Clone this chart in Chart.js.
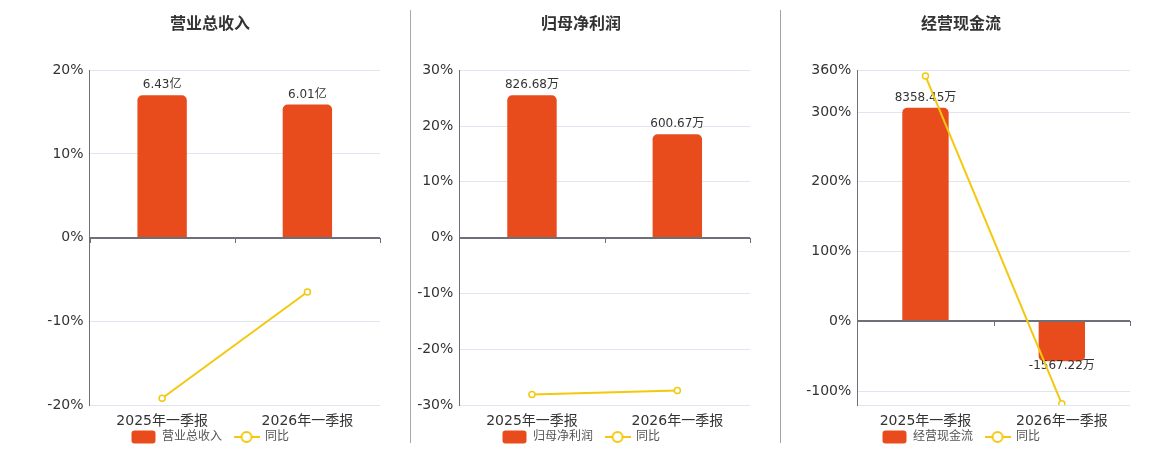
<!DOCTYPE html>
<html><head><meta charset="utf-8">
<script src="https://cdn.jsdelivr.net/npm/chart.js@4.4.0/dist/chart.umd.min.js"></script>
<style>
html,body{margin:0;padding:0;background:#fff;}
body{width:1160px;height:450px;position:relative;overflow:hidden;}
.panel{position:absolute;top:0;height:450px;}
.sep{position:absolute;top:10px;height:433px;width:1px;background:#a8a8a8;}
</style></head><body>
<div class="panel" style="left:10px;width:400px"><canvas id="c1" width="400" height="450"></canvas></div>
<div class="sep" style="left:410px"></div>
<div class="panel" style="left:411px;width:340px"><canvas id="c2" width="340" height="450"></canvas></div>
<div class="sep" style="left:780px;background:#a4a49c"></div>
<div class="panel" style="left:781px;width:360px"><canvas id="c3" width="360" height="450"></canvas></div>
<script>
// ---- data ----
const categories = ['2025年一季报', '2026年一季报'];

const revenueName = '营业总收入';
const revenueValues = [6.43, 6.01];          // 亿
const revenueUnit = '亿';
const revenueYoY = [-19.2, -6.5];           // %
const revenueTicks = [-20, -10, 0, 10, 20];

const profitName = '归母净利润';
const profitValues = [826.68, 600.67];       // 万
const profitUnit = '万';
const profitYoY = [-28.1, -27.4];
const profitTicks = [-30, -20, -10, 0, 10, 20, 30];

const cashName = '经营现金流';
const cashValues = [8358.45, -1567.22];      // 万
const cashUnit = '万';
const cashYoY = [351.6, -118.3];
const cashTicks = [-120, -100, 0, 100, 200, 300, 360];
const cashHiddenTickLabels = [-120];

const yoyName = '同比';

// ---- styles ----
const BAR_COLOR = '#E84C1D';
const LINE_COLOR = '#F3C80E';
const AXIS_COLOR = '#6E7079';
const GRID_COLOR = '#E0E6F1';
Chart.defaults.font.family = "'DejaVu Sans','Noto Sans CJK SC',sans-serif";

function barIcon() {
  const c = document.createElement('canvas'); c.width = 25; c.height = 14;
  const g = c.getContext('2d'); g.fillStyle = BAR_COLOR;
  g.beginPath(); g.roundRect(0.5, 0.5, 24, 13, 3); g.fill();
  return c;
}
function lineIcon() {
  const c = document.createElement('canvas'); c.width = 26; c.height = 14;
  const g = c.getContext('2d'); g.strokeStyle = LINE_COLOR; g.lineWidth = 2;
  g.beginPath(); g.moveTo(0, 7); g.lineTo(26, 7); g.stroke();
  g.beginPath(); g.arc(13, 7, 5, 0, Math.PI * 2); g.fillStyle = '#fff'; g.fill(); g.stroke();
  return c;
}

const valueLabels = {
  id: 'valueLabels',
  afterDatasetDraw(chart, args) {
    if (args.index !== 0) return;
    const ctx = chart.ctx;
    // zero axis line with category ticks
    const ys = chart.scales.y, xs = chart.scales.x, area = chart.chartArea;
    const y0 = Math.round(ys.getPixelForValue(0));
    ctx.save();
    ctx.strokeStyle = AXIS_COLOR; ctx.lineWidth = 2;
    ctx.beginPath(); ctx.moveTo(area.left, y0); ctx.lineTo(area.right, y0); ctx.stroke();
    ctx.lineWidth = 1;
    const n = chart.data.labels.length;
    const bounds = [area.left];
    for (let i = 0; i < n - 1; i++) bounds.push((xs.getPixelForValue(i) + xs.getPixelForValue(i + 1)) / 2);
    bounds.push(area.right);
    bounds.forEach(b => { const bx = Math.round(b) + 0.5; ctx.beginPath(); ctx.moveTo(bx, y0); ctx.lineTo(bx, y0 + 5); ctx.stroke(); });
    // value labels
    const ds = chart.data.datasets[0];
    ctx.font = "12px 'DejaVu Sans','Noto Sans CJK SC',sans-serif";
    ctx.fillStyle = '#333'; ctx.textAlign = 'center'; ctx.textBaseline = 'middle';
    args.meta.data.forEach((el, i) => {
      const v = ds.data[i];
      const txt = v.toFixed(2) + ds.unit;
      if (v >= 0) ctx.fillText(txt, el.x, el.y - 10);
      else ctx.fillText(txt, el.x, el.y + 5);
    });
    ctx.restore();
  }
};

function makeChart(id, title, barName, barValues, unit, yoy, ticks, hidden, yWidth, rightWidth) {
  const pMin = ticks[0], pMax = ticks[ticks.length - 1];
  const bMax = Math.max(...barValues) / 0.85;
  const bMin = bMax * pMin / pMax;
  return new Chart(document.getElementById(id), {
    data: {
      labels: categories,
      datasets: [
        { type: 'bar', label: barName, data: barValues, unit: unit, yAxisID: 'y1', order: 1,
          backgroundColor: BAR_COLOR, borderRadius: 5, borderSkipped: 'start',
          categoryPercentage: 1, barPercentage: 0.34 },
        { type: 'line', label: yoyName, data: yoy, yAxisID: 'y', order: 0,
          borderColor: LINE_COLOR, borderWidth: 2, pointRadius: 3, pointBorderWidth: 1.5,
          pointBackgroundColor: '#fff', pointBorderColor: LINE_COLOR, tension: 0 }
      ]
    },
    options: {
      responsive: false, animation: false, devicePixelRatio: 1,
      layout: { autoPadding: false, padding: { top: 0, right: 0, bottom: -3, left: 0 } },
      plugins: {
        tooltip: { enabled: false },
        title: { display: true, text: title, color: '#333',
          font: { size: 16, weight: 'bold' }, padding: { top: 15, bottom: 36 } },
        legend: { position: 'bottom',
          labels: { usePointStyle: true, pointStyleWidth: 25, boxHeight: 12, padding: 12,
            color: '#555', font: { size: 12 },
            generateLabels: (chart) => chart.data.datasets.map((d, i) => ({
              text: d.label, datasetIndex: i, fontColor: '#555',
              pointStyle: i === 0 ? barIcon() : lineIcon(),
              fillStyle: 'transparent', strokeStyle: 'transparent', lineWidth: 0, hidden: false })) } }
      },
      scales: {
        x: { type: 'category', offset: true,
          afterFit: (s) => { s.height = 14; s.paddingLeft = 0; s.paddingRight = 0; s._computeLabelArea = () => null; },
          grid: { display: false, drawTicks: false }, border: { display: false },
          ticks: { color: '#333', font: { size: 14 }, padding: 8, maxRotation: 0 } },
        y: { type: 'linear', position: 'left', min: pMin, max: pMax,
          afterBuildTicks: (s) => { s.ticks = ticks.map(v => ({ value: v })); },
          afterFit: (s) => { s.width = yWidth; },
          grid: { color: (c) => c.tick && c.tick.value === 0 ? 'rgba(0,0,0,0)' : GRID_COLOR, drawTicks: false },
          border: { color: AXIS_COLOR, width: 1 },
          ticks: { color: '#333', font: { size: 14 }, padding: 6,
            callback: (v) => hidden.includes(v) ? '' : v + '%' } },
        y1: { type: 'linear', position: 'right', display: true, min: bMin, max: bMax,
          afterFit: (s) => { s.width = rightWidth; s.paddingTop = 0; s.paddingBottom = 0; },
          grid: { display: false, drawTicks: false }, border: { display: false },
          ticks: { display: false } }
      }
    },
    plugins: [valueLabels]
  });
}

makeChart('c1', revenueName, revenueName, revenueValues, revenueUnit, revenueYoY, revenueTicks, [], 79.5, 30);
makeChart('c2', profitName, profitName, profitValues, profitUnit, profitYoY, profitTicks, [], 48.3, 1);
makeChart('c3', cashName, cashName, cashValues, cashUnit, cashYoY, cashTicks, cashHiddenTickLabels, 76.3, 11);
</script>
</body></html>
